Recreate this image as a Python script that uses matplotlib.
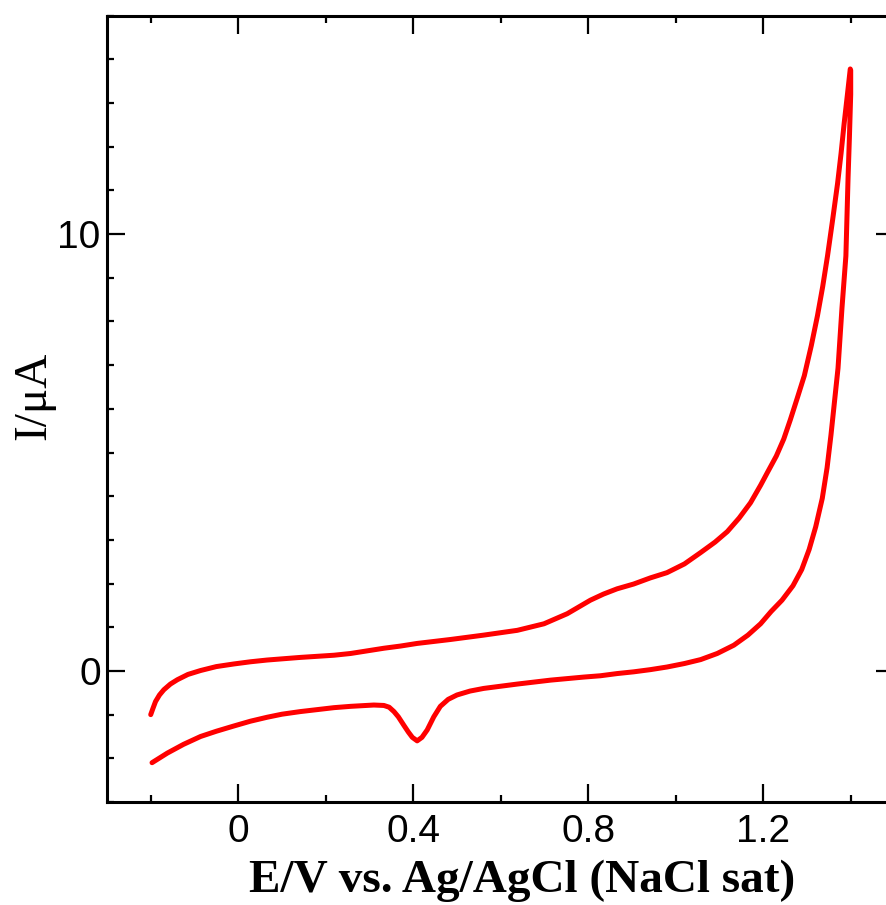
"""Cyclic voltammogram, I vs E."""
import matplotlib
matplotlib.use("Agg")
import matplotlib.pyplot as plt
from matplotlib.ticker import MultipleLocator, FixedLocator, FuncFormatter

# anodic sweep (upper branch), E in V, I in uA
E_fwd = [-0.200, -0.195, -0.189, -0.180, -0.170, -0.155, -0.139, -0.115, -0.086,
         -0.050, -0.010, 0.028, 0.066, 0.142, 0.219, 0.257, 0.295, 0.333, 0.371,
         0.409, 0.485, 0.561, 0.638, 0.699, 0.752, 0.805, 0.835, 0.866, 0.904,
         0.942, 0.980, 1.020, 1.057, 1.090, 1.118, 1.145, 1.171, 1.194, 1.210,
         1.230, 1.247, 1.262, 1.278, 1.294, 1.310, 1.324, 1.336, 1.347, 1.359,
         1.370, 1.378, 1.385, 1.392, 1.399]
I_fwd = [-1.00, -0.86, -0.70, -0.55, -0.43, -0.30, -0.20, -0.08, 0.01,
         0.10, 0.16, 0.21, 0.25, 0.31, 0.36, 0.40, 0.46, 0.52, 0.57,
         0.63, 0.72, 0.82, 0.93, 1.08, 1.31, 1.62, 1.76, 1.88, 1.99,
         2.13, 2.25, 2.45, 2.71, 2.95, 3.19, 3.50, 3.85, 4.25, 4.55,
         4.92, 5.31, 5.75, 6.25, 6.76, 7.45, 8.13, 8.80, 9.50, 10.35,
         11.16, 11.85, 12.53, 13.15, 13.78]

# cathodic sweep (lower branch)
E_rev = [1.400, 1.400, 1.397, 1.394, 1.389, 1.380, 1.371, 1.363, 1.355, 1.346,
         1.335, 1.320, 1.305, 1.288, 1.268, 1.243, 1.218, 1.194, 1.165, 1.133,
         1.095, 1.057, 1.020, 0.980, 0.942, 0.904, 0.866, 0.828, 0.790, 0.714,
         0.638, 0.561, 0.530, 0.500, 0.480, 0.462, 0.447, 0.432, 0.420, 0.409,
         0.398, 0.389, 0.379, 0.366, 0.356, 0.345, 0.333, 0.310, 0.257, 0.219,
         0.142, 0.100, 0.066, 0.028, -0.010, -0.050, -0.086, -0.125, -0.162,
         -0.197]
I_rev = [13.75, 13.20, 12.20, 11.30, 9.50, 8.30, 6.93, 6.17, 5.41, 4.65,
         3.95, 3.30, 2.78, 2.32, 1.95, 1.62, 1.36, 1.08, 0.82, 0.59,
         0.40, 0.26, 0.17, 0.09, 0.03, -0.02, -0.06, -0.11, -0.14, -0.21,
         -0.30, -0.40, -0.46, -0.55, -0.65, -0.81, -1.05, -1.35, -1.52, -1.60,
         -1.52, -1.40, -1.25, -1.05, -0.93, -0.83, -0.79, -0.78, -0.81, -0.84,
         -0.93, -0.99, -1.06, -1.15, -1.26, -1.38, -1.50, -1.68, -1.88,
         -2.10]

X_MAJOR = [0.0, 0.4, 0.8, 1.2]
X_MINOR = [-0.2, 0.2, 0.6, 1.0, 1.4]
Y_MAJOR = [0, 10]


def main():
    fig = plt.figure(figsize=(8.87, 9.05), dpi=100)
    ax = fig.add_axes([0.1206, 0.1138, 0.8878, 0.8689])

    ax.plot(E_fwd + E_rev, I_fwd + I_rev, color="#ff0000", lw=3.6,
            solid_capstyle="round", solid_joinstyle="round", clip_on=False)

    ax.set_xlim(-0.3, 1.5)
    ax.set_ylim(-3, 15)

    ax.xaxis.set_major_locator(FixedLocator(X_MAJOR))
    ax.xaxis.set_minor_locator(FixedLocator(X_MINOR))
    ax.yaxis.set_major_locator(FixedLocator(Y_MAJOR))
    ax.yaxis.set_minor_locator(MultipleLocator(1))
    ax.xaxis.set_major_formatter(FuncFormatter(lambda v, p: f"{v:g}"))
    ax.yaxis.set_major_formatter(FuncFormatter(lambda v, p: f"{v:g}"))

    for s in ax.spines.values():
        s.set_linewidth(2.2)
    ax.tick_params(which="both", direction="in", top=True, right=True,
                   width=1.6, color="black")
    ax.tick_params(which="major", length=13)
    ax.tick_params(which="minor", length=5)
    ax.tick_params(axis="x", which="major", pad=8.5)
    ax.tick_params(axis="y", which="major", pad=4.5)
    for lab in ax.get_xticklabels() + ax.get_yticklabels():
        lab.set_fontfamily("Liberation Sans")
        lab.set_fontsize(28)

    ax.set_xlabel("E/V vs. Ag/AgCl (NaCl sat)", family="Liberation Serif",
                  fontsize=34, fontweight="bold", va="baseline")
    ax.xaxis.set_label_coords(0.527, -0.1145)

    fig.text(45 / 887, 1 - 396 / 905, "I/\u03bcA", family="Liberation Serif",
             fontsize=34, rotation=90, rotation_mode="anchor",
             ha="center", va="baseline")

    fig.savefig("out.png", dpi=100)


if __name__ == "__main__":
    main()
